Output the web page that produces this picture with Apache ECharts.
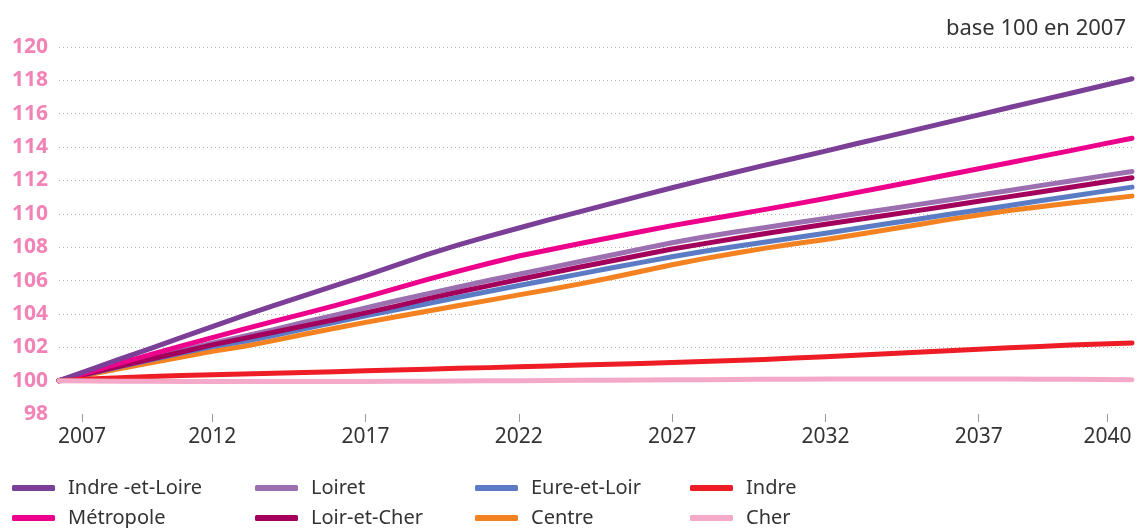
<!DOCTYPE html>
<html>
<head>
<meta charset="utf-8">
<script src="https://cdn.jsdelivr.net/npm/echarts@6/dist/echarts.min.js"></script>
<style>
  html, body { margin: 0; padding: 0; background: #fff; }
  #chart { width: 1136px; height: 528px; }
</style>
</head>
<body>
<div id="chart"></div>
<script>
// années 2007 -> 2042 (base 100 en 2007)
var years = [];
for (var y = 2007; y <= 2042; y++) years.push(y);

var indreEtLoire = [100, 100.65, 101.3, 101.94, 102.59, 103.24, 103.88, 104.5, 105.1, 105.7, 106.3, 106.93, 107.55, 108.12, 108.65, 109.15, 109.65, 110.13, 110.61, 111.09, 111.56, 112.02, 112.46, 112.9, 113.33, 113.76, 114.2, 114.63, 115.06, 115.5, 115.93, 116.37, 116.8, 117.23, 117.66, 118.1];
var metropole = [100, 100.53, 101.05, 101.57, 102.08, 102.58, 103.07, 103.55, 104.02, 104.5, 105.01, 105.53, 106.05, 106.55, 107.02, 107.47, 107.85, 108.22, 108.58, 108.94, 109.29, 109.61, 109.93, 110.25, 110.58, 110.92, 111.27, 111.62, 111.98, 112.34, 112.7, 113.06, 113.43, 113.79, 114.16, 114.53];
var loiret = [100, 100.47, 100.93, 101.38, 101.82, 102.25, 102.65, 103.05, 103.5, 103.93, 104.36, 104.79, 105.2, 105.6, 106.0, 106.38, 106.76, 107.14, 107.52, 107.9, 108.27, 108.6, 108.89, 109.17, 109.45, 109.72, 110.0, 110.27, 110.55, 110.83, 111.12, 111.4, 111.69, 111.97, 112.26, 112.54];
var loirEtCher = [100, 100.44, 100.88, 101.3, 101.72, 102.14, 102.52, 102.9, 103.28, 103.66, 104.06, 104.47, 104.9, 105.3, 105.68, 106.06, 106.44, 106.81, 107.17, 107.53, 107.89, 108.2, 108.51, 108.8, 109.09, 109.37, 109.64, 109.91, 110.19, 110.47, 110.75, 111.03, 111.31, 111.59, 111.88, 112.16];
var eureEtLoir = [100, 100.42, 100.84, 101.25, 101.65, 102.04, 102.34, 102.7, 103.1, 103.5, 103.88, 104.25, 104.61, 104.98, 105.34, 105.7, 106.05, 106.4, 106.75, 107.09, 107.43, 107.74, 108.03, 108.3, 108.56, 108.84, 109.12, 109.4, 109.68, 109.96, 110.23, 110.5, 110.78, 111.05, 111.33, 111.6];
var centre = [100, 100.36, 100.72, 101.07, 101.42, 101.76, 102.05, 102.4, 102.78, 103.14, 103.49, 103.83, 104.16, 104.49, 104.81, 105.14, 105.46, 105.8, 106.17, 106.56, 106.95, 107.3, 107.62, 107.93, 108.2, 108.46, 108.75, 109.05, 109.35, 109.65, 109.93, 110.2, 110.43, 110.65, 110.86, 111.06];
var indre = [100, 100.1, 100.18, 100.25, 100.31, 100.36, 100.4, 100.44, 100.49, 100.54, 100.59, 100.64, 100.69, 100.74, 100.78, 100.83, 100.88, 100.93, 100.98, 101.03, 101.08, 101.14, 101.2, 101.27, 101.35, 101.43, 101.52, 101.61, 101.7, 101.79, 101.88, 101.97, 102.05, 102.13, 102.2, 102.26];
var cher = [100, 99.98, 99.97, 99.96, 99.95, 99.95, 99.95, 99.95, 99.95, 99.95, 99.95, 99.96, 99.97, 99.98, 99.99, 100, 100.01, 100.02, 100.03, 100.04, 100.05, 100.06, 100.07, 100.08, 100.09, 100.1, 100.1, 100.1, 100.1, 100.1, 100.1, 100.1, 100.09, 100.08, 100.07, 100.06];

// graduations de l'axe des x (les extrêmes sont décalées comme sur l'original)
var xTickValues = [2007.75, 2012, 2017, 2022, 2027, 2032, 2037, 2041.2];
var xTickLabels = ['2007', '2012', '2017', '2022', '2027', '2032', '2037', '2040'];

// légende : 4 colonnes x 2 lignes
var legendCols = [
    ['Indre -et-Loire', 'Métropole'],
    ['Loiret', 'Loir-et-Cher'],
    ['Eure-et-Loir', 'Centre'],
    ['Indre', 'Cher']
];

var FONT = 'Noto Sans';

function pairs(arr) {
    return arr.map(function (v, i) { return [years[i], v]; });
}

function serie(name, data, color) {
    return {
        name: name,
        type: 'line',
        data: pairs(data),
        showSymbol: false,
        symbol: 'none',
        itemStyle: { color: color },
        lineStyle: { width: 5, color: color, cap: 'round', join: 'round' },
        emphasis: { disabled: true }
    };
}

var colLeft = [12, 255, 475, 690];
var rowTop = [478, 508];
var legends = [];
legendCols.forEach(function (col, c) {
    col.forEach(function (name, r) {
        legends.push({
            left: colLeft[c],
            top: rowTop[r],
            padding: 0,
            itemWidth: 43,
            itemHeight: 6,
            icon: 'roundRect',
            selectedMode: false,
            data: [name],
            textStyle: { fontFamily: FONT, fontSize: 20, color: '#333', padding: [0, 0, 0, 8] }
        });
    });
});

var chart = echarts.init(document.getElementById('chart'));
chart.setOption({
    animation: false,
    backgroundColor: '#fff',
    title: {
        text: 'base 100 en 2007',
        right: 5,
        top: 13,
        textStyle: { fontFamily: FONT, fontSize: 22, fontWeight: 'normal', color: '#333' }
    },
    legend: legends,
    grid: { left: 59, right: 4, top: 47, bottom: 114, containLabel: false },
    xAxis: {
        type: 'value',
        min: 2007,
        max: 2042,
        axisLine: { show: false },
        axisTick: { show: true, length: 8, customValues: xTickValues, lineStyle: { color: '#999', width: 1 } },
        axisLabel: {
            customValues: xTickValues,
            margin: 13,
            fontFamily: FONT,
            fontSize: 21,
            color: '#333',
            formatter: function (v) {
                var i = xTickValues.indexOf(v);
                return i >= 0 ? xTickLabels[i] : '';
            }
        },
        splitLine: { show: false }
    },
    yAxis: {
        type: 'value',
        min: 98,
        max: 120,
        interval: 2,
        axisLine: { show: false },
        axisTick: { show: false },
        axisLabel: { margin: 11, fontFamily: FONT, fontSize: 21, fontWeight: 'bold', color: '#f283b6' },
        splitLine: { show: true, showMinLine: false, lineStyle: { color: '#b5b5b5', width: 1, type: [1, 3] } }
    },
    series: [
        serie('Centre', centre, '#f58220'),
        serie('Eure-et-Loir', eureEtLoir, '#5b7cc4'),
        serie('Loiret', loiret, '#9b6fb0'),
        serie('Loir-et-Cher', loirEtCher, '#a3005e'),
        serie('Métropole', metropole, '#ec008c'),
        serie('Indre -et-Loire', indreEtLoire, '#7b3f98'),
        serie('Indre', indre, '#ee1c25'),
        serie('Cher', cher, '#f4a9c9')
    ]
});
</script>
</body>
</html>
